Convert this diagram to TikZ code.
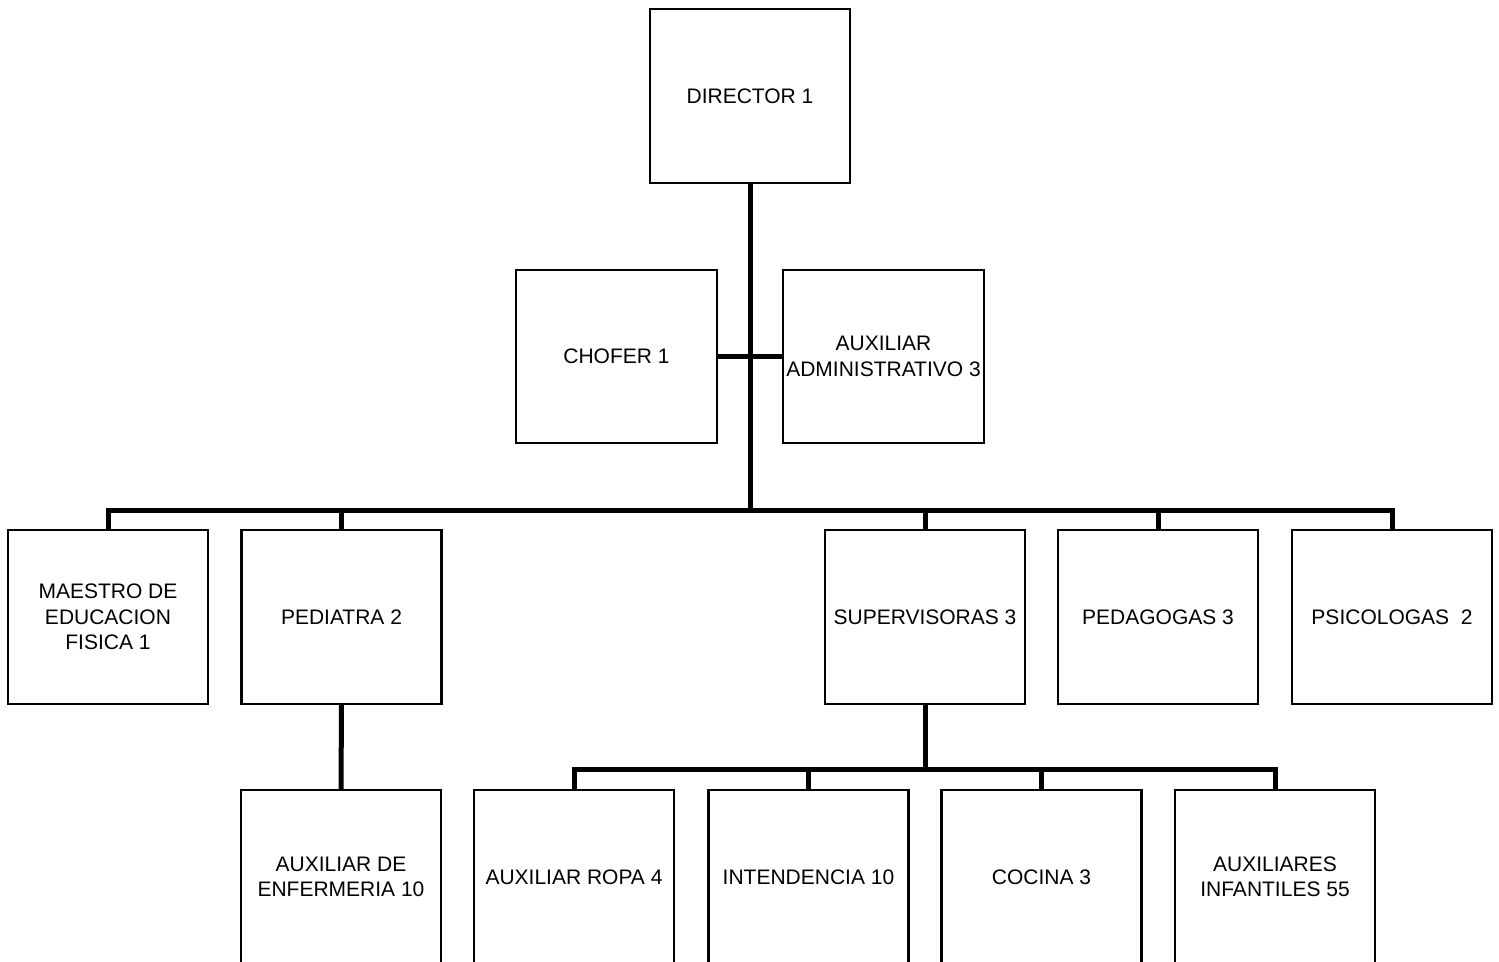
\documentclass[tikz,border=0pt]{standalone}
\usepackage{fontspec}
\setmainfont{Liberation Sans}
\begin{document}
\begin{tikzpicture}[x=1pt,y=-1pt,
  box/.style={draw=black,line width=2.4pt,fill=white,inner sep=0pt,
    minimum width=200pt,minimum height=174pt,align=center,
    font=\fontsize{21}{25.5}\selectfont},
  conn/.style={draw=black,line width=5pt,line join=miter}]
\useasboundingbox (0,0) rectangle (1499,961);
\clip (0,0) rectangle (1499,961);
% connectors first (behind boxes)
\coordinate (j1) at (750,510);
\coordinate (j2) at (925,769);
\node[box] (dir) at (750,96) {DIRECTOR 1};
\node[box,minimum width=201pt,minimum height=173pt] (cho) at (616.5,356.5) {CHOFER 1};
\node[box,minimum width=201pt,minimum height=173pt] (adm) at (883.5,356.5) {AUXILIAR\\ADMINISTRATIVO 3};
\node[box] (mae) at (108,617) {MAESTRO DE\\EDUCACION\\FISICA 1};
\node[box] (pedi) at (341.5,617) {PEDIATRA 2};
\node[box] (sup) at (925,617) {SUPERVISORAS 3};
\node[box] (peda) at (1158,617) {PEDAGOGAS 3};
\node[box] (psi) at (1392,617) {PSICOLOGAS\ \ 2};
\node[box] (enf) at (341,877) {AUXILIAR DE\\ENFERMERIA 10};
\node[box] (rop) at (574,877) {AUXILIAR ROPA 4};
\node[box] (int) at (808.5,877) {INTENDENCIA 10};
\node[box] (coc) at (1041.5,877) {COCINA 3};
\node[box] (inf) at (1275,877) {AUXILIARES\\INFANTILES 55};
\begin{scope}[conn]
\draw (dir.south) -- (j1);
\draw (cho.east) -- (adm.west);
\draw (mae.north) -- (mae.north |- j1) -- (psi.north |- j1) -- (psi.north);
\draw (pedi.north) -- (pedi.north |- j1);
\draw (sup.north) -- (sup.north |- j1);
\draw (peda.north) -- (peda.north |- j1);
\draw (pedi.south) -- (enf.north);
\draw (sup.south) -- (j2);
\draw (rop.north) -- (rop.north |- j2) -- (inf.north |- j2) -- (inf.north);
\draw (int.north) -- (int.north |- j2);
\draw (coc.north) -- (coc.north |- j2);
\end{scope}
\end{tikzpicture}
\end{document}
